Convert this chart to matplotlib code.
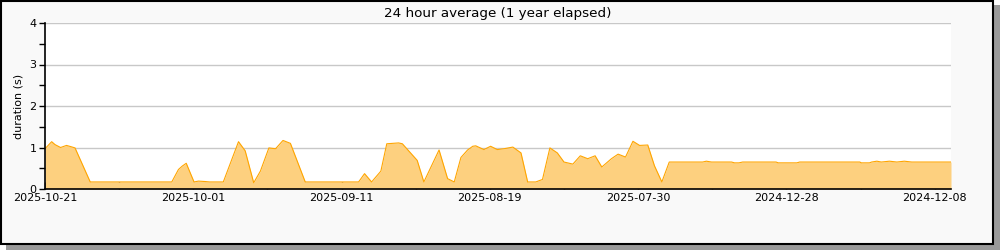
import matplotlib
matplotlib.use("Agg")
import matplotlib.pyplot as plt
from matplotlib.patches import Rectangle
import numpy as np

# days from the left edge of the plot, and the 24h average duration (s)
days = [0, 0.9, 1.35, 2.1, 2.9, 3.5, 4.05, 6.1, 17.1, 18.0, 18.5, 19.05,
        20.1, 20.7, 21.6, 22.2, 24.05, 26.1, 27.0, 28.15, 29.05, 30.2, 31.1,
        32.1, 33.1, 35.1, 42.3, 43.1, 44.05, 45.3, 46.1, 47.7, 48.2, 50.2,
        51.1, 53.15, 54.3, 55.2, 56.1, 57.0, 57.7, 58.1, 59.2, 60.1, 61.0,
        61.9, 63.1, 64.2, 65.1, 66.2, 67.1, 68.1, 69.1, 70.0, 71.2, 72.2,
        73.2, 74.2, 75.1, 76.4, 77.3, 78.3, 79.3, 80.2, 81.3, 82.2, 83.2,
        84.2, 88.7, 89.2, 89.9, 92.6, 93.0, 93.6, 94.1, 98.6, 98.9, 101.4,
        101.8, 109.9, 110.1, 111.2, 111.5, 112.2, 112.8, 113.9, 114.9, 115.9,
        116.9, 122.2]
duration = [0.97, 1.14, 1.07, 1.0, 1.05, 1.02, 0.99, 0.17, 0.17, 0.47, 0.55,
            0.62, 0.17, 0.19, 0.18, 0.17, 0.17, 1.14, 0.92, 0.15, 0.43, 0.99,
            0.97, 1.17, 1.1, 0.17, 0.17, 0.37, 0.17, 0.43, 1.09, 1.11, 1.09,
            0.69, 0.17, 0.94, 0.25, 0.17, 0.76, 0.94, 1.03, 1.04, 0.95, 1.03,
            0.95, 0.97, 1.01, 0.87, 0.17, 0.17, 0.23, 0.99, 0.87, 0.65, 0.6,
            0.8, 0.73, 0.8, 0.53, 0.73, 0.84, 0.77, 1.15, 1.05, 1.06, 0.56,
            0.17, 0.65, 0.65, 0.67, 0.65, 0.65, 0.63, 0.63, 0.65, 0.65, 0.63,
            0.63, 0.65, 0.65, 0.63, 0.63, 0.65, 0.67, 0.65, 0.67, 0.65, 0.67,
            0.65, 0.65]

tick_days = [0, 20, 40, 60, 80, 100, 120]
tick_labels = ['2025-10-21', '2025-10-01', '2025-09-11', '2025-08-19',
               '2025-07-30', '2024-12-28', '2024-12-08']
minor_days = [10, 30, 50, 70, 90, 110]

fig = plt.figure(figsize=(10, 2.5), dpi=100)
fig.patch.set_facecolor('white')

# framed panel with a drop shadow
fig.patches.append(Rectangle((0.006, 0.0), 0.994, 0.98, transform=fig.transFigure,
                             facecolor='#9a9a9a', edgecolor='none', zorder=0))
fig.patches.append(Rectangle((0.001, 0.024), 0.992, 0.974, transform=fig.transFigure,
                             facecolor='#f9f9f9', edgecolor='black', linewidth=1.5, zorder=1))

ax = fig.add_axes([0.045, 0.244, 0.906, 0.664])
ax.set_facecolor('white')
ax.set_zorder(2)

ax.fill_between(days, duration, 0, color='#fdd07f', linewidth=0)
ax.plot(days, duration, color='#ffa500', linewidth=0.8)

ax.set_xlim(0, 122.2)
ax.set_ylim(0, 4)

ax.set_yticks([0, 1, 2, 3, 4])
ax.set_yticks(np.arange(0.5, 4, 1), minor=True)
ax.set_xticks(tick_days)
ax.set_xticklabels(tick_labels)
ax.set_xticks(minor_days, minor=True)

ax.tick_params(axis='y', which='both', direction='out', length=4, width=1,
               labelsize=8, pad=2)
ax.tick_params(axis='x', which='both', direction='in', length=5, width=1,
               labelsize=8, pad=3)

ax.grid(axis='y', color='#c8c8c8', linewidth=1)
ax.set_axisbelow(True)
for s in ['top', 'right']:
    ax.spines[s].set_visible(False)
for s in ['left', 'bottom']:
    ax.spines[s].set_linewidth(1.2)
ax.spines['bottom'].set_zorder(5)

ax.set_ylabel('duration (s)', fontsize=8, labelpad=4)
ax.set_title('24 hour average (1 year elapsed)', fontsize=9.7, pad=4)

fig.savefig('out.png', dpi=100)
